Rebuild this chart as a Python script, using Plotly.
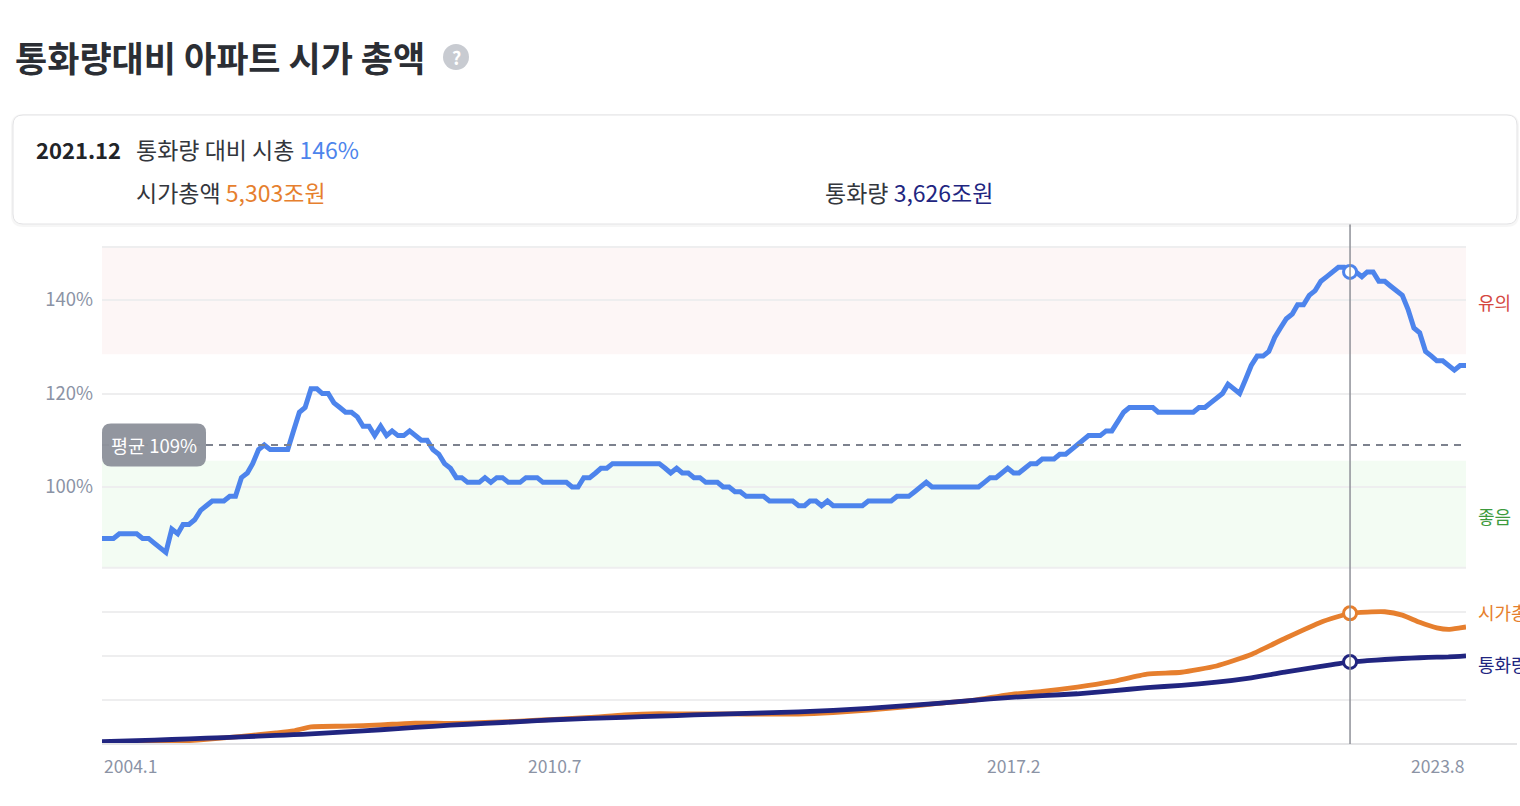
import pandas as pd
import plotly.graph_objects as go

# 통화량 대비 아파트 시가총액 비율 (%), 월별 2004.1 ~ 2023.8
ratio_pct = [
    89, 89, 89, 90, 90, 90, 90, 89, 89, 88, 87, 86,          # 2004
    91, 90, 92, 92, 93, 95, 96, 97, 97, 97, 98, 98,          # 2005
    102, 103, 105, 108, 109, 108, 108, 108, 108, 112, 116, 117,  # 2006
    121, 121, 120, 120, 118, 117, 116, 116, 115, 113, 113, 111,  # 2007
    113, 111, 112, 111, 111, 112, 111, 110, 110, 108, 107, 105,  # 2008
    104, 102, 102, 101, 101, 101, 102, 101, 102, 102, 101, 101,  # 2009
    101, 102, 102, 102, 101, 101, 101, 101, 101, 100, 100, 102,  # 2010
    102, 103, 104, 104, 105, 105, 105, 105, 105, 105, 105, 105,  # 2011
    105, 104, 103, 104, 103, 103, 102, 102, 101, 101, 101, 100,  # 2012
    100, 99, 99, 98, 98, 98, 98, 97, 97, 97, 97, 97,         # 2013
    96, 96, 97, 97, 96, 97, 96, 96, 96, 96, 96, 96,          # 2014
    97, 97, 97, 97, 97, 98, 98, 98, 99, 100, 101, 100,       # 2015
    100, 100, 100, 100, 100, 100, 100, 100, 101, 102, 102, 103,  # 2016
    104, 103, 103, 104, 105, 105, 106, 106, 106, 107, 107, 108,  # 2017
    109, 110, 111, 111, 111, 112, 112, 114, 116, 117, 117, 117,  # 2018
    117, 117, 116, 116, 116, 116, 116, 116, 116, 117, 117, 118,  # 2019
    119, 120, 122, 121, 120, 123, 126, 128, 128, 129, 132, 134,  # 2020
    136, 137, 139, 139, 141, 142, 144, 145, 146, 147, 147, 146,  # 2021
    146, 145, 146, 146, 144, 144, 143, 142, 141, 138, 134, 133,  # 2022
    129, 128, 127, 127, 126, 125, 126, 126,                  # 2023
]
ratio_months = pd.date_range("2004-01-01", periods=len(ratio_pct), freq="MS")

# 시가총액 / 통화량 (조원)
level_dates = [
    "2004-01", "2004-07", "2005-01", "2005-07", "2006-01", "2006-07", "2006-10",
    "2007-01", "2007-07", "2008-01", "2008-07", "2009-01", "2009-07", "2010-01",
    "2010-07", "2011-01", "2011-07", "2012-01", "2012-07", "2013-01", "2013-07",
    "2014-01", "2014-07", "2015-01", "2015-07", "2016-01", "2016-07", "2017-01",
    "2017-07", "2018-01", "2018-07", "2019-01", "2019-07", "2020-01", "2020-07",
    "2021-01", "2021-07", "2021-12", "2022-03", "2022-06", "2022-09", "2022-12",
    "2023-03", "2023-05", "2023-07", "2023-08",
]
market_cap = [
    781, 824, 869, 960, 1066, 1183, 1254, 1392, 1415, 1458, 1521, 1508, 1540, 1586,
    1651, 1714, 1806, 1848, 1836, 1835, 1833, 1829, 1882, 1969, 2068, 2200, 2300, 2496,
    2613, 2758, 2946, 3206, 3271, 3487, 3881, 4461, 4997, 5303, 5345, 5355, 5240, 4990,
    4800, 4750, 4800, 4830,
]
money_supply = [
    878, 915, 955, 1000, 1045, 1095, 1120, 1150, 1220, 1290, 1370, 1450, 1510, 1570,
    1635, 1680, 1720, 1760, 1800, 1835, 1870, 1905, 1960, 2030, 2110, 2200, 2300, 2400,
    2465, 2530, 2630, 2740, 2820, 2930, 3080, 3280, 3470, 3626, 3670, 3710, 3745, 3770,
    3790, 3800, 3820, 3833,
]

avg_pct = 109
caution_from = 128.4
good_to = 105.6
ratio_range = [82.74, 151.34]
ytick_vals = [100, 120, 140]
ytick_text = ["100%", "120%", "140%"]
level_range = [800, 6872]
level_grid = [2318, 3836, 5354]

xtick_dates = ["2004-01-01", "2010-07-01", "2017-02-01", "2023-08-01"]
xtick_text = ["2004.1", "2010.7", "2017.2", "2023.8"]
cursor = "2021-12"

BLUE = "#4d84ec"
ORANGE = "#e67f2e"
NAVY = "#212580"
GRID = "#eeeeef"
TICK = "#8b93a5"
FONT = "Noto Sans CJK KR, Noto Sans, sans-serif"

# 픽셀 -> paper 좌표 (레이아웃 장식용)
L, R, T, B = 102, 1466, 247, 744
def fx(p):
    return (p - L) / (R - L)
def fy(p):
    return (B - p) / (B - T)

def rr_path(x0, y0, x1, y1, rx, ry):
    return (f"M {x0+rx},{y0} L {x1-rx},{y0} Q {x1},{y0} {x1},{y0+ry} "
            f"L {x1},{y1-ry} Q {x1},{y1} {x1-rx},{y1} "
            f"L {x0+rx},{y1} Q {x0},{y1} {x0},{y1-ry} "
            f"L {x0},{y0+ry} Q {x0},{y0} {x0+rx},{y0} Z")

split = fy(567.7)
ci = ratio_months.get_loc(pd.Timestamp(cursor + "-01"))
li = level_dates.index(cursor)

fig = go.Figure()

fig.add_trace(go.Scatter(x=ratio_months, y=ratio_pct, mode="lines",
                         line=dict(color=BLUE, width=5), yaxis="y", showlegend=False))
fig.add_trace(go.Scatter(x=level_dates, y=market_cap, mode="lines",
                         line=dict(color=ORANGE, width=4.8, shape="spline", smoothing=0.5),
                         yaxis="y2", showlegend=False))
fig.add_trace(go.Scatter(x=level_dates, y=money_supply, mode="lines",
                         line=dict(color=NAVY, width=4.8, shape="spline", smoothing=0.5),
                         yaxis="y2", showlegend=False))

# 커서 지점 마커
for xs, ys, col, ax in [([ratio_months[ci]], [ratio_pct[ci]], BLUE, "y"),
                        ([level_dates[li]], [market_cap[li]], ORANGE, "y2"),
                        ([level_dates[li]], [money_supply[li]], NAVY, "y2")]:
    fig.add_trace(go.Scatter(x=xs, y=ys, mode="markers", yaxis=ax, showlegend=False,
                             marker=dict(size=13, color="white", line=dict(color=col, width=3))))

shapes = [
    # 구간 배경
    dict(type="rect", xref="paper", yref="y", x0=0, x1=1, y0=caution_from, y1=ratio_range[1],
         fillcolor="#fdf6f6", line_width=0, layer="between"),
    dict(type="rect", xref="paper", yref="y", x0=0, x1=1, y0=ratio_range[0], y1=good_to,
         fillcolor="#f3fcf3", line_width=0, layer="between"),
    # 위/아래 경계선
    dict(type="line", xref="paper", yref="paper", x0=0, x1=1, y0=1, y1=1,
         line=dict(color=GRID, width=2), layer="between"),
    dict(type="line", xref="paper", yref="paper", x0=0, x1=1, y0=split, y1=split,
         line=dict(color=GRID, width=2), layer="between"),
    dict(type="line", xref="paper", yref="paper", x0=0, x1=fx(1517), y0=0, y1=0,
         line=dict(color="#e4e4e6", width=2)),
    # 평균선
    dict(type="line", xref="paper", yref="y", x0=0, x1=1, y0=avg_pct, y1=avg_pct,
         line=dict(color="#7d828e", width=2, dash="7px,6px")),
    # 커서 세로선
    dict(type="line", xref="x", yref="paper", x0=cursor + "-01", x1=cursor + "-01",
         y0=0, y1=fy(224), line=dict(color="#8e9097", width=1.5)),
    # 평균 라벨 박스
    dict(type="path", xref="paper", yref="y",
         path=rr_path(0, avg_pct - 4.6, fx(206), avg_pct + 4.6, 9 / 1364, 9 / 4.675),
         fillcolor="#8e939c", line_width=0, opacity=0.97),
    # 정보 박스 그림자 + 본체
    dict(type="path", xref="paper", yref="paper",
         path=rr_path(fx(11), fy(227), fx(1519), fy(114), 12 / 1364, 12 / 497),
         fillcolor="rgba(0,0,0,0.035)", line_width=0),
    dict(type="path", xref="paper", yref="paper",
         path=rr_path(fx(13), fy(224), fx(1517), fy(115), 10 / 1364, 10 / 497),
         fillcolor="white", line=dict(color="#e3e3e5", width=1)),
    # 물음표 아이콘
    dict(type="circle", xref="paper", yref="paper", x0=fx(443), x1=fx(469),
         y0=fy(70), y1=fy(44), fillcolor="#c8cbd1", line_width=0),
]

ann = [
    dict(text="통화량대비 아파트 시가 총액", x=fx(13), y=fy(56), xanchor="left", yanchor="middle",
         font=dict(size=35, color="#2b2e34", weight=700)),
    dict(text="?", x=fx(456), y=fy(57), xanchor="center", yanchor="middle",
         font=dict(size=18, color="white", weight=700)),
    dict(text="2021.12", x=fx(34), y=fy(149), xanchor="left", yanchor="middle",
         font=dict(size=22, color="#222428", weight=600)),
    dict(text=f"통화량 대비 시총 <span style='color:{BLUE}'>{ratio_pct[ci]}%</span>",
         x=fx(134), y=fy(149), xanchor="left", yanchor="middle",
         font=dict(size=23, color="#33363c")),
    dict(text=f"시가총액 <span style='color:{ORANGE}'>{market_cap[li]:,}조원</span>",
         x=fx(134), y=fy(192), xanchor="left", yanchor="middle",
         font=dict(size=23, color="#33363c")),
    dict(text=f"통화량 <span style='color:{NAVY}'>{money_supply[li]:,}조원</span>",
         x=fx(823), y=fy(192), xanchor="left", yanchor="middle",
         font=dict(size=23, color="#33363c")),
    dict(text=f"평균 {avg_pct}%", x=fx(154), y=avg_pct, yref="y", xanchor="center",
         yanchor="middle", font=dict(size=18.5, color="white")),
    dict(text="유의", x=fx(1476), y=fy(302), xanchor="left", yanchor="middle",
         font=dict(size=18, color="#d5483f")),
    dict(text="좋음", x=fx(1476), y=fy(516), xanchor="left", yanchor="middle",
         font=dict(size=18, color="#3d9a3d")),
    dict(text="시가총액", x=fx(1476), y=fy(612), xanchor="left", yanchor="middle",
         font=dict(size=18, color=ORANGE)),
    dict(text="통화량", x=fx(1476), y=fy(664), xanchor="left", yanchor="middle",
         font=dict(size=18, color=NAVY)),
]
for d, t, anc in zip(xtick_dates, xtick_text, ["left", "center", "center", "right"]):
    ann.append(dict(text=t, x=d, xref="x", y=fy(765), xanchor=anc, yanchor="middle",
                    font=dict(size=17.5, color=TICK)))
for a in ann:
    a.setdefault("xref", "paper")
    a.setdefault("yref", "paper")
    a["showarrow"] = False

fig.update_layout(
    width=1520, height=806,
    margin=dict(l=L, r=1520 - R, t=T, b=806 - B),
    paper_bgcolor="white", plot_bgcolor="white",
    font=dict(family=FONT),
    xaxis=dict(type="date", range=["2004-01-01", "2023-08-01"], showgrid=False,
               showticklabels=False, zeroline=False, showline=False, anchor="y2"),
    yaxis=dict(domain=[split, 1], range=ratio_range, tickmode="array",
               tickvals=ytick_vals, ticktext=ytick_text, showgrid=True,
               gridcolor=GRID, gridwidth=2, zeroline=False, ticks="",
               ticklabelstandoff=8, tickfont=dict(size=18.5, color=TICK)),
    yaxis2=dict(domain=[0, split], range=level_range, tickvals=level_grid,
                showticklabels=False, showgrid=True, gridcolor=GRID, gridwidth=2,
                zeroline=False),
    shapes=shapes,
    annotations=ann,
    showlegend=False,
)

fig.write_html("out.html", config={"displayModeBar": False},
               post_script="document.body.style.margin='0';")
